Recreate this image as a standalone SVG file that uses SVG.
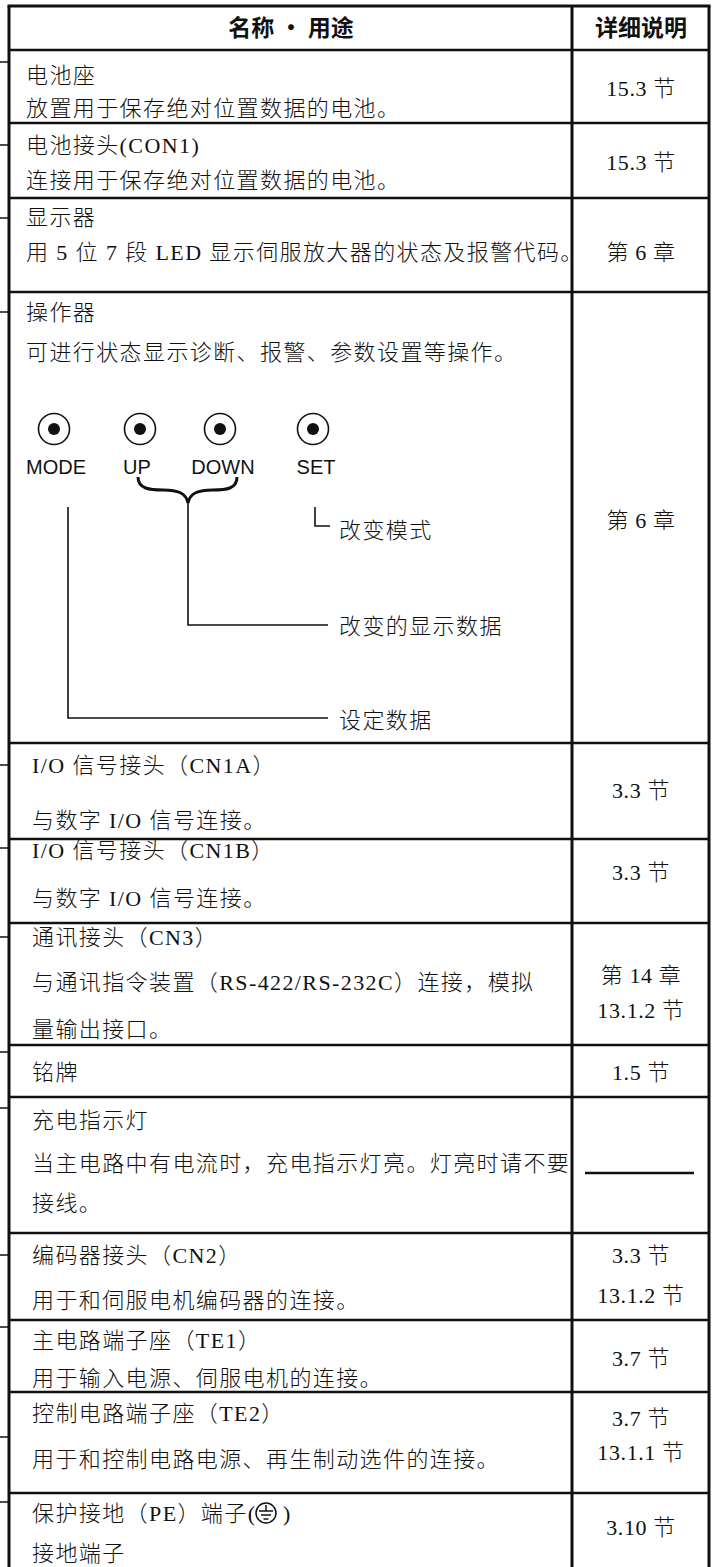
<svg xmlns="http://www.w3.org/2000/svg" width="715" height="1567" viewBox="0 0 715 1567">
<style>
.t{font-family:"Liberation Serif","Noto Sans CJK SC",serif;font-size:22px;font-weight:300;letter-spacing:1.4px;fill:#111}
.r{font-family:"Liberation Serif","Noto Sans CJK SC",serif;font-size:22px;font-weight:300;letter-spacing:0.6px;fill:#111;text-anchor:middle}
.h{font-family:"Noto Sans CJK SC",sans-serif;font-size:23px;font-weight:bold;fill:#111;text-anchor:middle}
.k{font-family:"Liberation Sans",Arial,sans-serif;font-size:20px;fill:#111;text-anchor:middle}
.g{stroke:#111;fill:none}
.bd{stroke:#111;stroke-width:3}
.ln{stroke:#111;stroke-width:2.5}
.c{stroke:#111;stroke-width:1.6;fill:none}
</style>
<rect width="715" height="1567" fill="#fff"/>
<g id="table">
<line class="bd" x1="9" y1="6" x2="9" y2="1567"/>
<line class="bd" x1="572" y1="6" x2="572" y2="1567"/>
<line class="bd" x1="709" y1="6" x2="709" y2="1567"/>
<line class="bd" x1="7.5" y1="6" x2="710.5" y2="6"/>
<line class="ln" x1="9" y1="50" x2="709" y2="50"/>
<line class="ln" x1="9" y1="123" x2="709" y2="123"/>
<line class="ln" x1="9" y1="198" x2="709" y2="198"/>
<line class="ln" x1="9" y1="292" x2="709" y2="292"/>
<line class="ln" x1="9" y1="743" x2="709" y2="743"/>
<line class="ln" x1="9" y1="839" x2="709" y2="839"/>
<line class="ln" x1="9" y1="923" x2="709" y2="923"/>
<line class="ln" x1="9" y1="1045" x2="709" y2="1045"/>
<line class="ln" x1="9" y1="1097" x2="709" y2="1097"/>
<line class="ln" x1="9" y1="1233" x2="709" y2="1233"/>
<line class="ln" x1="9" y1="1320" x2="709" y2="1320"/>
<line class="ln" x1="9" y1="1392" x2="709" y2="1392"/>
<line class="ln" x1="9" y1="1493" x2="709" y2="1493"/>
</g>
<g id="header">
<text class="h" x="291" y="36">名称 · 用途</text>
<text class="h" x="641" y="36">详细说明</text>
</g>
<g id="row-battery-holder">
<text class="t" x="26" y="83">电池座</text>
<text class="t" x="26" y="116">放置用于保存绝对位置数据的电池。</text>
<text class="r" x="641" y="96">15.3 节</text>
</g>
<g id="row-battery-connector">
<text class="t" x="26" y="153">电池接头(CON1)</text>
<text class="t" x="26" y="188">连接用于保存绝对位置数据的电池。</text>
<text class="r" x="641" y="170">15.3 节</text>
</g>
<g id="row-display">
<text class="t" x="26" y="225">显示器</text>
<text class="t" x="26" y="260">用 5 位 7 段 LED 显示伺服放大器的状态及报警代码。</text>
<text class="r" x="641" y="260">第 6 章</text>
</g>
<g id="row-operator">
<text class="t" x="26" y="320">操作器</text>
<text class="t" x="26" y="360">可进行状态显示诊断、报警、参数设置等操作。</text>
<circle class="c" cx="54" cy="429" r="15.5"/><circle cx="54" cy="429" r="6" fill="#111"/>
<circle class="c" cx="140" cy="429" r="15.5"/><circle cx="140" cy="429" r="6" fill="#111"/>
<circle class="c" cx="220" cy="429" r="15.5"/><circle cx="220" cy="429" r="6" fill="#111"/>
<circle class="c" cx="313" cy="429" r="15.5"/><circle cx="313" cy="429" r="6" fill="#111"/>
<text class="k" x="56" y="474">MODE</text>
<text class="k" x="137" y="474">UP</text>
<text class="k" x="223" y="474">DOWN</text>
<text class="k" x="316" y="474">SET</text>
<text class="t" x="339" y="538">改变模式</text>
<text class="t" x="339" y="634">改变的显示数据</text>
<text class="t" x="339" y="728">设定数据</text>
<text class="r" x="641" y="528">第 6 章</text>
</g>
<g id="row-cn1a">
<text class="t" x="32" y="773">I/O 信号接头（CN1A）</text>
<text class="t" x="32" y="828">与数字 I/O 信号连接。</text>
<text class="r" x="641" y="798">3.3 节</text>
</g>
<g id="row-cn1b">
<text class="t" x="32" y="858">I/O 信号接头（CN1B）</text>
<text class="t" x="32" y="906">与数字 I/O 信号连接。</text>
<text class="r" x="641" y="880">3.3 节</text>
</g>
<g id="row-cn3">
<text class="t" x="32" y="945">通讯接头（CN3）</text>
<text class="t" x="32" y="990">与通讯指令装置（RS-422/RS-232C）连接，模拟</text>
<text class="t" x="32" y="1037">量输出接口。</text>
<text class="r" x="641" y="983">第 14 章</text>
<text class="r" x="641" y="1018">13.1.2 节</text>
</g>
<g id="row-nameplate">
<text class="t" x="32" y="1080">铭牌</text>
<text class="r" x="641" y="1080">1.5 节</text>
</g>
<g id="row-charge-lamp">
<text class="t" x="32" y="1128">充电指示灯</text>
<text class="t" x="32" y="1171">当主电路中有电流时，充电指示灯亮。灯亮时请不要</text>
<text class="t" x="32" y="1211">接线。</text>
<line class="ln" x1="585" y1="1173" x2="694" y2="1173" stroke-width="2"/>
</g>
<g id="row-cn2">
<text class="t" x="32" y="1263">编码器接头（CN2）</text>
<text class="t" x="32" y="1308">用于和伺服电机编码器的连接。</text>
<text class="r" x="641" y="1263">3.3 节</text>
<text class="r" x="641" y="1303">13.1.2 节</text>
</g>
<g id="row-te1">
<text class="t" x="32" y="1348">主电路端子座（TE1）</text>
<text class="t" x="32" y="1386">用于输入电源、伺服电机的连接。</text>
<text class="r" x="641" y="1366">3.7 节</text>
</g>
<g id="row-te2">
<text class="t" x="32" y="1421">控制电路端子座（TE2）</text>
<text class="t" x="32" y="1467">用于和控制电路电源、再生制动选件的连接。</text>
<text class="r" x="641" y="1426">3.7 节</text>
<text class="r" x="641" y="1460">13.1.1 节</text>
</g>
<g id="row-pe">
<text class="t" x="32" y="1521" letter-spacing="0.4">保护接地（PE）端子(</text>
<g class="g" stroke-width="1.5">
<circle cx="266" cy="1513" r="10"/>
<line x1="266" y1="1505" x2="266" y2="1511"/>
<line x1="259" y1="1511" x2="273" y2="1511"/>
<line x1="261" y1="1515" x2="271" y2="1515"/>
<line x1="263.5" y1="1519" x2="268.5" y2="1519"/>
</g>
<text class="t" x="283" y="1521">)</text>
<text class="t" x="32" y="1561">接地端子</text>
<text class="r" x="641" y="1535">3.10 节</text>
</g>
<g id="connectors" class="g">
<path d="M138,477 C138,489 150,490 163,490 C178,490 186,493 188,503 C190,493 198,490 213,490 C226,490 237,489 237,477" stroke-width="3"/>
<path d="M315,507 V526 H330" stroke-width="1.6"/>
<path d="M188,503 V625 H328" stroke-width="1.6"/>
<path d="M68,507 V718 H328" stroke-width="1.6"/>
<g stroke-width="1.5">
<line x1="0" y1="62" x2="8" y2="62"/>
<line x1="0" y1="145" x2="8" y2="145"/>
<line x1="0" y1="218" x2="8" y2="218"/>
<line x1="0" y1="312" x2="8" y2="312"/>
<line x1="0" y1="765" x2="8" y2="765"/>
<line x1="0" y1="848" x2="8" y2="848"/>
<line x1="0" y1="937" x2="8" y2="937"/>
<line x1="0" y1="1052" x2="8" y2="1052"/>
<line x1="0" y1="1108" x2="8" y2="1108"/>
<line x1="0" y1="1255" x2="8" y2="1255"/>
<line x1="0" y1="1327" x2="8" y2="1327"/>
<line x1="0" y1="1437" x2="8" y2="1437"/>
<line x1="0" y1="1502" x2="8" y2="1502"/>
</g>
</g>
</svg>
